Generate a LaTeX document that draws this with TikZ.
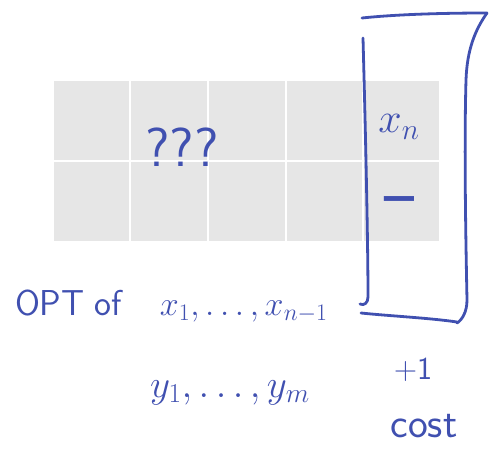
\RequirePackage{fix-cm}
\documentclass[tikz,border=0pt]{standalone}
\usepackage{amsmath}
\usepackage{fontspec}
\newfontfamily\dashfont{Fira Sans}
\definecolor{ink}{RGB}{64,80,176}
\definecolor{cellgray}{RGB}{230,230,230}
\tikzset{
  cell/.style={fill=cellgray,draw=none},
  pen/.style={draw=ink,line width=2.8pt,line cap=round,line join=round},
  hand/.style={text=ink,inner sep=0pt,outer sep=0pt},
}
\begin{document}
\begin{tikzpicture}[x=1pt,y=-1pt]
\useasboundingbox (0,0) rectangle (490,455);
% grid cells
\foreach \xa/\xb [count=\i] in {54/128.5,130.5/206.5,208.5/284.5,286.5/361.5,363.5/439}{
  \foreach \ya/\yb [count=\j] in {81/159.5,161.5/241}{
    \path[cell] (\xa,\ya) rectangle (\xb,\yb);
  }
}
% bracket
\draw[pen] (363,38) .. controls (366,150) and (368,250) .. (368,297) .. controls (368,303) and (364,306) .. (360,304);
\draw[pen] (362,18) .. controls (400,14) and (450,13) .. (487,13);
\draw[pen] (487,13) .. controls (475,30) and (467,50) .. (466,80) .. controls (464,150) and (466,250) .. (467,300) .. controls (467,312) and (462,320) .. (457,323);
\draw[pen] (361,313) .. controls (390,316) and (430,318) .. (457,322);
% texts
\node[hand,font=\fontsize{55}{55}\selectfont\sffamily] (qqq) at (182,147) {???};
\node[hand,font=\fontsize{42}{42}\selectfont] (xn) at (399,127) {$x_n$};
\node[hand,font=\fontsize{40}{40}\selectfont\dashfont\bfseries] (dash) at (399,204) {—};
\node[hand,font=\fontsize{36}{36}\selectfont\sffamily,anchor=base west] (opt) at (15,315) {\makebox[80pt][l]{OPT}\makebox[65pt][l]{of}\fontsize{34}{34}\selectfont$x_1,\ldots,x_{n-1}$};
\node[hand,font=\fontsize{39}{39}\selectfont,anchor=base west] (ys) at (150,397) {$y_1,\ldots,y_m$};
\node[hand,font=\fontsize{32}{32}\selectfont\sffamily] (plus) at (413,370) {+1};
\node[hand,font=\fontsize{42}{42}\selectfont\sffamily] (cost) at (424,426) {cost};
\end{tikzpicture}
\end{document}
